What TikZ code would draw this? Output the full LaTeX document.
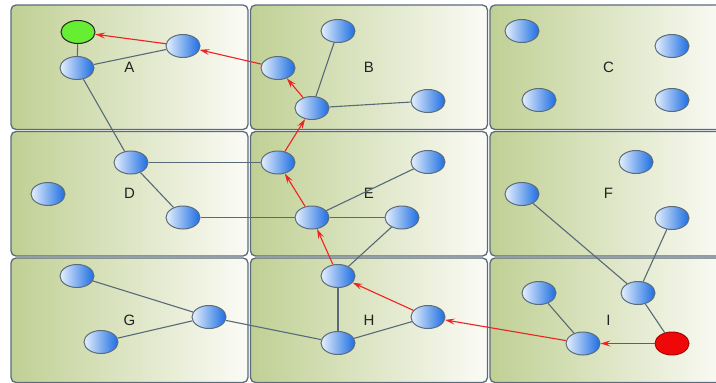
\documentclass[tikz,border=0pt]{standalone}
\usepackage{fontspec}
\setmainfont{Liberation Sans}
\usetikzlibrary{arrows.meta,shapes.geometric}
\definecolor{ink}{HTML}{222222}
\definecolor{frame}{HTML}{5B6B7A}
\definecolor{olive}{HTML}{C0D094}
\definecolor{paper}{HTML}{FBFBF6}
\definecolor{bluelight}{HTML}{E6F0FC}
\definecolor{bluedark}{HTML}{1C6DE2}
\definecolor{edgegray}{HTML}{586A78}
\definecolor{goalgreen}{HTML}{66EE33}
\definecolor{startred}{HTML}{EE0808}
\definecolor{pathred}{HTML}{EE2222}
\tikzset{
  cell/.style={draw=frame, line width=1.3pt, rounded corners=5pt, left color=olive, right color=paper, minimum width=237pt, minimum height=124.5pt, font=\fontsize{15}{18}\selectfont, text=ink},
  dot/.style={ellipse, line width=1pt, inner sep=0pt, minimum width=34pt, minimum height=23pt},
  bluedot/.style={dot, draw=frame, left color=bluelight, right color=bluedark},
  greendot/.style={dot, draw=ink, fill=goalgreen},
  reddot/.style={dot, draw=startred!70!black, fill=startred},
  link/.style={draw=edgegray, line width=1.1pt},
  route/.style={-{Stealth[length=10pt,width=6pt,inset=4pt]}, draw=pathred, line width=1.1pt},
}
\begin{document}
\begin{tikzpicture}[x=1pt,y=-1pt]
\useasboundingbox (0,0) rectangle (716,383);
\clip (0,0) rectangle (716,383);
\foreach \lab/\x/\y in {A/129.5/67.25, B/369/67.25, C/608.5/67.25, D/129.5/193.75, E/369/193.75, F/608.5/193.75, G/129.5/320.25, H/369/320.25, I/608.5/320.25}
  \node[cell] (\lab) at (\x,\y) {\lab};
\node[greendot] (goal) at (78,32) {};
\node[bluedot] (a1) at (77,68) {};
\node[bluedot] (a2) at (183,46) {};
\node[bluedot] (b1) at (338,31) {};
\node[bluedot] (b2) at (278,68) {};
\node[bluedot] (b3) at (312,108) {};
\node[bluedot] (b4) at (428,101) {};
\node[bluedot] (c1) at (522,31) {};
\node[bluedot] (c2) at (672,46) {};
\node[bluedot] (c3) at (539,100) {};
\node[bluedot] (c4) at (672,100) {};
\node[bluedot] (d1) at (131,162.5) {};
\node[bluedot] (d2) at (48,194) {};
\node[bluedot] (d3) at (183,217.5) {};
\node[bluedot] (e1) at (278,162.5) {};
\node[bluedot] (e2) at (428,162) {};
\node[bluedot] (e3) at (312,217.5) {};
\node[bluedot] (e4) at (402,217.5) {};
\node[bluedot] (f1) at (636,162) {};
\node[bluedot] (f2) at (522,194) {};
\node[bluedot] (f3) at (672,218) {};
\node[bluedot] (g1) at (77,276) {};
\node[bluedot] (g2) at (101,342) {};
\node[bluedot] (g3) at (209,317) {};
\node[bluedot] (h1) at (338,276) {};
\node[bluedot] (h2) at (338,343) {};
\node[bluedot] (h3) at (428,317) {};
\node[bluedot] (i1) at (539,293) {};
\node[bluedot] (i2) at (638,293) {};
\node[bluedot] (i3) at (583,343.5) {};
\node[reddot] (start) at (672,343.5) {};
\foreach \u/\v in {goal/a1, a1/a2, a1/d1, d1/d3, d1/e1, d3/e3, b3/b1, b3/b4, e3/e2, e3/e4, e4/h1, h1/h2, h2/h3, g3/h2, g1/g3, g2/g3, f2/i2, f3/i2, i2/start, i1/i3}
  \draw[link] (\u) -- (\v);
\foreach \u/\v in {start/i3, i3/h3, h3/h1, h1/e3, e3/e1, e1/b3, b3/b2, b2/a2, a2/goal}
  \draw[route] (\u) -- (\v);
\end{tikzpicture}
\end{document}
